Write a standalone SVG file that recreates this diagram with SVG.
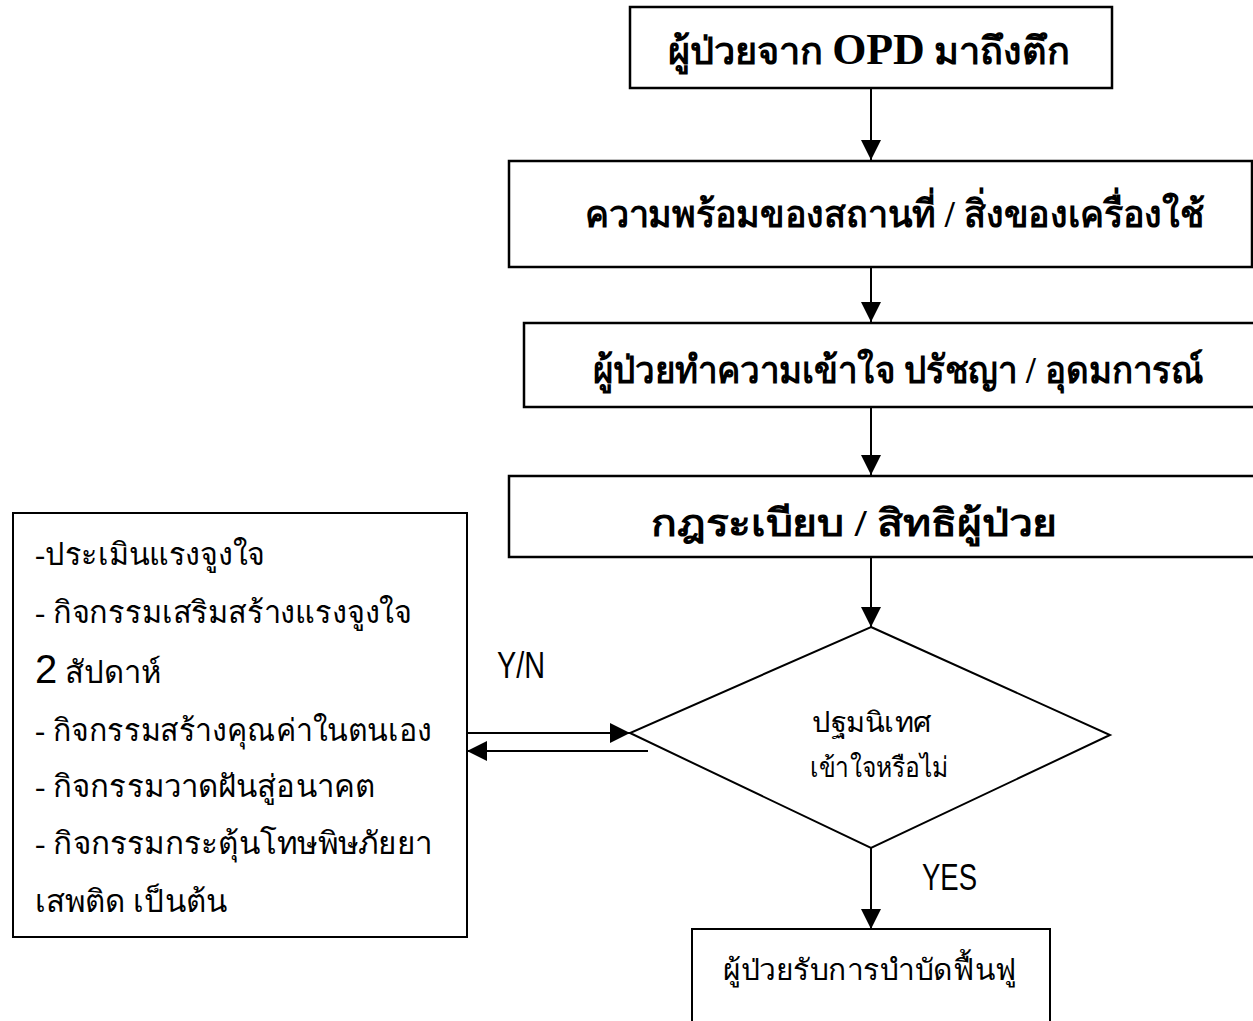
<svg xmlns="http://www.w3.org/2000/svg" width="1253" height="1021" viewBox="0 0 1253 1021">
<style>
.box{fill:#fff;stroke:#000;stroke-width:2.5}
.thin{fill:#fff;stroke:#000;stroke-width:2}
.conn line{stroke:#000;stroke-width:2}
.b{font-family:"Liberation Serif","Noto Sans","DejaVu Sans",serif;font-weight:bold;font-size:38px;fill:#000}
.r{font-family:"Liberation Serif","Noto Sans","DejaVu Sans",serif;fill:#000}
.lat{font-family:"Liberation Sans","DejaVu Sans",sans-serif;fill:#000}
</style>
<defs>
<marker id="ah2" viewBox="0 0 20 20" refX="20" refY="10" markerWidth="20" markerHeight="20" markerUnits="userSpaceOnUse" orient="auto">
<path d="M0,0 L20,10 L0,20 z" fill="#000"/>
</marker>
</defs>
<rect width="1253" height="1021" fill="#fff"/>
<g id="connectors" class="conn">
<line x1="871" y1="88" x2="871" y2="160" marker-end="url(#ah2)"/>
<line x1="871" y1="267" x2="871" y2="322" marker-end="url(#ah2)"/>
<line x1="871" y1="407" x2="871" y2="475" marker-end="url(#ah2)"/>
<line x1="871" y1="557" x2="871" y2="627" marker-end="url(#ah2)"/>
<line x1="871" y1="848" x2="871" y2="929" marker-end="url(#ah2)"/>
<line x1="463" y1="733" x2="630" y2="733" marker-end="url(#ah2)"/>
<line x1="648" y1="751" x2="467" y2="751" marker-end="url(#ah2)"/>
</g>
<g id="n1"><rect class="box" x="630" y="7" width="482" height="81"/>
<text class="b" x="668" y="64" textLength="402" lengthAdjust="spacingAndGlyphs">ผู้ป่วยจาก <tspan font-size="44">OPD</tspan> มาถึงตึก</text></g>
<g id="n2"><rect class="box" x="509" y="161" width="743" height="106"/>
<text class="b" x="585" y="227" textLength="620" lengthAdjust="spacingAndGlyphs">ความพร้อมของสถานที่ / สิ่งของเครื่องใช้</text></g>
<g id="n3"><rect class="box" x="524" y="323" width="740" height="84"/>
<text class="b" x="593" y="383" textLength="610" lengthAdjust="spacingAndGlyphs">ผู้ป่วยทำความเข้าใจ ปรัชญา / อุดมการณ์</text></g>
<g id="n4"><rect class="box" x="509" y="476" width="750" height="81"/>
<text class="b" x="651" y="536" textLength="406" lengthAdjust="spacingAndGlyphs">กฎระเบียบ / สิทธิผู้ป่วย</text></g>
<g id="n5"><polygon class="thin" points="871,627 1110,735 871,848 630,733"/>
<text class="r" x="812" y="732" font-size="28" textLength="120" lengthAdjust="spacingAndGlyphs">ปฐมนิเทศ</text>
<text class="r" x="810" y="777" font-size="28" textLength="138" lengthAdjust="spacingAndGlyphs">เข้าใจหรือไม่</text></g>
<g id="n6"><rect class="thin" x="692" y="929" width="358" height="100"/>
<text class="r" x="723" y="980" font-size="29" textLength="294" lengthAdjust="spacingAndGlyphs">ผู้ป่วยรับการบำบัดฟื้นฟู</text></g>
<g id="n7" font-size="31"><rect class="thin" x="13" y="513" width="454" height="424"/>
<text class="r" x="35" y="565" textLength="230" lengthAdjust="spacingAndGlyphs">-ประเมินแรงจูงใจ</text>
<text class="r" x="35" y="623" textLength="377" lengthAdjust="spacingAndGlyphs">- กิจกรรมเสริมสร้างแรงจูงใจ</text>
<text class="r" x="35" y="683"><tspan class="lat" font-size="40">2</tspan> สัปดาห์</text>
<text class="r" x="35" y="741" textLength="397" lengthAdjust="spacingAndGlyphs">- กิจกรรมสร้างคุณค่าในตนเอง</text>
<text class="r" x="35" y="797" textLength="340" lengthAdjust="spacingAndGlyphs">- กิจกรรมวาดฝันสู่อนาคต</text>
<text class="r" x="35" y="854" textLength="397" lengthAdjust="spacingAndGlyphs">- กิจกรรมกระตุ้นโทษพิษภัยยา</text>
<text class="r" x="35" y="912" textLength="192" lengthAdjust="spacingAndGlyphs">เสพติด เป็นต้น</text></g>
<text class="lat" x="497" y="678" font-size="36" textLength="48" lengthAdjust="spacingAndGlyphs">Y/N</text>
<text class="lat" x="922" y="890" font-size="36" textLength="55" lengthAdjust="spacingAndGlyphs">YES</text>
</svg>
